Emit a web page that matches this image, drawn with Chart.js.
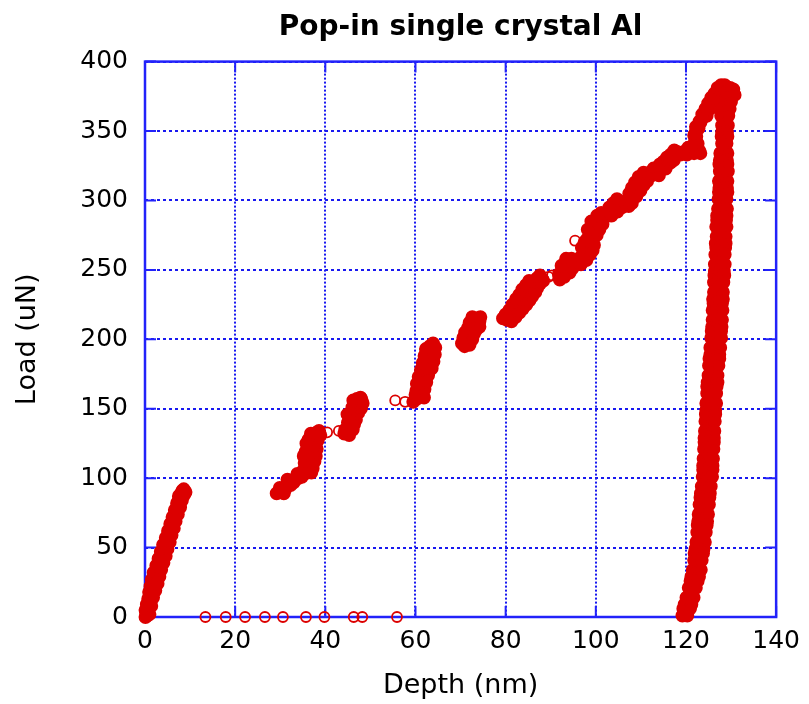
<!DOCTYPE html>
<html>
<head>
<meta charset="utf-8">
<title>Pop-in single crystal Al</title>
<script src="https://cdn.jsdelivr.net/npm/chart.js@4.4.1/dist/chart.umd.min.js"></script>
<style>
  html, body { margin: 0; padding: 0; background: #fff; }
  #wrap { width: 809px; height: 704px; }
</style>
</head>
<body>
<div id="wrap"><canvas id="popinChart" width="809" height="704"></canvas></div>
<script>
/* Pop-in nanoindentation curve, single crystal Al */

// loading branch (depth nm, load uN), in the order recorded
var loadDepth = [
  0.1, 0.5, 0.3, 0.1, 0.6, 0.4, 0.9, 0.7, 1.1, 0.9, 1.4, 1.2, 1.7, 1.5, 2.1, 1.9, 2.6, 2.5, 3.1, 3.0,
  3.7, 3.5, 4.2, 4.0, 4.7, 4.6, 5.2, 5.1, 5.7, 5.6, 6.2, 6.1, 6.7, 6.6, 7.2, 7.1, 7.6, 7.5, 8.0, 8.3, 8.6,
  29.2, 30.0, 30.8, 30.4, 31.3, 31.9, 32.6, 33.3, 34.0, 34.8, 35.4, 35.9, 36.1, 37.2, 36.3, 37.6, 36.2, 37.9,
  36.5, 35.6, 36.7, 38.1, 36.6, 35.8, 37.0, 38.3, 37.2, 37.6, 38.1, 38.6,
  44.2, 44.9, 45.4, 46.4, 45.0, 45.9, 46.3, 45.8, 46.6, 47.2, 46.8, 47.5, 47.0, 47.8,
  59.5, 60.2, 60.9, 61.2, 60.8, 61.6, 61.2, 62.0, 61.8, 63.0, 62.2, 63.4, 62.6, 63.6, 62.9, 63.8, 63.2, 63.9,
  70.9, 71.6, 71.4, 72.1, 71.9, 72.6, 72.4, 73.1, 72.9, 73.6, 74.2, 73.8,
  79.4, 80.3, 81.0, 81.8, 82.5, 83.2, 83.8, 84.4, 85.0, 85.2, 85.9, 86.4, 87.0, 87.6, 88.2,
  91.8, 92.5, 93.2, 93.0, 93.8, 94.3, 94.6,
  96.0, 96.6, 97.3, 97.8, 98.3, 98.0, 98.8, 99.4, 99.2, 99.9, 100.5, 100.3, 101.0,
  102.8, 103.6, 104.3, 105.0, 105.6, 104.8,
  107.3, 107.8, 108.2, 108.6, 109.2, 109.8, 110.4, 111.0, 112.0, 113.7, 115.0, 116.6, 118.0, 119.5,
  121.0, 122.2, 122.9,
  122.6, 122.0, 122.3, 122.2, 122.8, 122.0, 123.2, 123.6, 124.6, 125.3, 126.0, 126.7, 127.4, 128.2,
  129.0, 129.8, 130.5
];
var loadForce = [
  0, 1, 3, 5, 7, 9, 11, 13, 16, 18, 20, 22, 25, 27, 30, 32, 35, 37, 40, 42,
  45, 47, 50, 52, 55, 57, 60, 62, 65, 67, 70, 72, 75, 77, 80, 82, 85, 87, 89, 91, 92,
  89, 90, 89, 92, 94, 96, 98, 99, 100, 101, 103, 105, 108, 107, 111, 112, 114, 116,
  117, 119, 120, 121, 123, 125, 126, 127, 129, 131, 133, 134,
  132, 134, 137, 139, 140, 142, 145, 147, 149, 151, 153, 155, 157, 158,
  155, 157, 159, 162, 165, 167, 170, 172, 175, 177, 180, 182, 185, 187, 190, 192, 195, 197,
  195, 197, 200, 202, 205, 207, 210, 212, 214, 215, 213, 210,
  215, 214, 217, 220, 223, 225, 228, 231, 234, 237, 239, 242, 244, 246, 243,
  247, 249, 251, 254, 256, 253, 258,
  255, 259, 262, 265, 268, 272, 274, 277, 281, 283, 286, 289, 287,
  289, 292, 295, 297, 299, 292,
  296, 300, 304, 307, 310, 313, 316, 318, 320, 322, 328, 333, 335, 335,
  336, 337, 336,
  341, 343, 346, 350, 352, 348, 356, 359, 361, 366, 371, 375, 378, 380,
  381, 381, 380
];

// further loading readings scattered around the same steps
var loadScatterDepth = [
  1.0, 1.4, 1.8, 2.3, 2.8, 3.2, 3.6, 4.1, 4.6, 5.0, 5.5, 5.9, 6.4, 6.8, 7.3, 7.8, 8.2, 8.7, 9.0,
  29.9, 31.1, 32.3, 31.6, 33.0, 33.8, 35.0, 36.9, 37.0, 35.4, 37.3, 35.2, 37.5, 36.0, 37.6, 36.3, 38.4, 36.8, 38.9,
  45.3, 44.4, 46.1, 45.5, 46.8, 44.9, 47.3, 46.0, 47.9, 46.2, 48.3, 48.0,
  60.0, 61.9, 60.2, 62.0, 60.3, 62.4, 60.7, 62.8, 61.2, 63.6, 61.6, 64.0, 62.0, 64.3, 62.3, 64.4,
  70.3, 72.0, 70.6, 72.6, 71.0, 73.0, 71.6, 73.5, 72.0, 74.2, 72.6, 74.4,
  80.0, 80.8, 81.5, 82.3, 83.0, 83.7, 84.5, 85.2,
  81.3, 82.2, 83.0, 83.8, 84.6, 85.3, 85.9, 86.6, 87.0, 87.6, 88.3,
  92.0, 93.0, 94.2, 94.8, 92.4, 95.2, 93.4,
  96.7, 97.9, 98.7, 99.3, 99.6, 96.9, 97.5, 100.2, 98.2, 100.8, 99.0, 101.5, 101.2, 102.0,
  103.0, 103.9, 104.7, 105.8, 106.2, 103.5,
  107.0, 108.0, 107.4, 109.0, 108.0, 109.9, 108.7, 110.6, 109.5, 111.4, 110.6, 112.4, 112.8, 114.0,
  114.2, 115.5, 115.8, 116.5, 117.3, 117.4, 118.8, 120.2, 120.5, 121.8, 123.2, 122.4,
  121.5, 121.8, 122.2, 123.0, 123.6, 124.3, 124.9, 125.6, 126.3, 127.0, 127.8, 128.6, 130.0, 130.8
];
var loadScatterForce = [
  2, 8, 14, 19, 24, 29, 34, 39, 44, 49, 54, 59, 64, 69, 74, 79, 84, 88, 90,
  93, 92, 95, 99, 97, 103, 105, 104, 110, 111, 114, 116, 118, 121, 124, 128, 130, 132, 131,
  131, 135, 135, 144, 142, 146, 147, 151, 150, 156, 154, 157,
  160, 158, 163, 164, 168, 169, 173, 174, 178, 179, 183, 184, 188, 189, 193, 194,
  197, 196, 201, 200, 205, 204, 208, 207, 212, 209, 216, 216,
  218, 221, 225, 229, 232, 236, 239, 242,
  213, 216, 219, 222, 225, 228, 231, 234, 237, 240, 242,
  243, 245, 248, 251, 253, 255, 258,
  254, 257, 261, 264, 268, 266, 270, 275, 279, 279, 285, 283, 291, 289,
  295, 298, 301, 295, 298, 289,
  300, 298, 305, 303, 309, 307, 313, 311, 317, 314, 320, 318, 323, 318,
  326, 323, 331, 327, 329, 336, 333, 333, 338, 334, 334, 338,
  339, 347, 353, 357, 362, 366, 370, 374, 377, 381, 383, 383, 378, 376
];

// isolated readings during the load bursts
var burstDepth = [40.4, 43.0, 55.5, 57.7, 89.5, 90.3, 95.4];
var burstForce = [133, 134, 156, 155, 245, 246, 271];

// stray points recorded at zero load during the pop-in hold
var zeroDepth = [13.4, 17.9, 22.2, 26.6, 30.6, 35.7, 39.8, 46.3, 48.2, 55.9];

// unloading branch: two load lists, three depth tracks across the band
var unloadForce = [
  379, 376, 371, 366, 361, 354, 349, 346, 341, 334, 329, 326, 321, 314, 309, 306, 301, 294, 289, 286,
  281, 274, 269, 266, 261, 254, 249, 246, 241, 234, 229, 226, 221, 214, 209, 206, 201, 194, 189, 186,
  181, 174, 169, 166, 161, 154, 149, 146, 141, 134, 129, 126, 121, 114, 109, 106, 101, 94, 89, 86,
  81, 74, 69, 66, 61, 54, 49, 46, 41, 34, 29, 26, 21, 14, 9, 6, 1
];
var unloadDepthIn = [
  128.0, 127.9, 127.8, 127.6, 127.8, 128.0, 128.0, 127.9, 128.0, 127.6, 127.5, 127.4, 127.5, 127.3, 127.4, 127.3, 127.2, 127.1, 126.9, 126.9,
  126.7, 126.8, 126.6, 126.7, 126.5, 126.4, 126.4, 126.3, 126.2, 126.2, 126.0, 126.1, 125.9, 125.9, 125.8, 125.7, 125.6, 125.4, 125.4, 125.2,
  125.1, 125.0, 124.8, 124.7, 124.7, 124.5, 124.5, 124.4, 124.3, 124.2, 124.1, 124.1, 124.0, 123.9, 123.8, 123.8, 123.7, 123.5, 123.3, 123.2,
  123.0, 122.8, 122.7, 122.6, 122.5, 122.3, 122.1, 121.9, 121.8, 121.5, 121.2, 121.0, 120.6, 120.1, 119.7, 119.4, 119.2
];
var unloadDepthOut = [
  130.3, 130.2, 130.0, 129.7, 129.4, 129.3, 129.1, 129.2, 129.0, 129.2, 129.1, 129.2, 129.3, 129.2, 129.1, 129.2, 129.0, 129.1, 129.0, 128.9,
  129.0, 128.8, 128.8, 128.7, 128.6, 128.6, 128.4, 128.5, 128.3, 128.2, 128.2, 128.0, 128.1, 128.0, 127.9, 127.8, 127.8, 127.6, 127.4, 127.4,
  127.2, 127.0, 127.0, 126.8, 126.7, 126.7, 126.5, 126.5, 126.4, 126.3, 126.2, 126.2, 126.1, 126.0, 125.9, 125.9, 125.8, 125.5, 125.3, 125.2,
  125.1, 124.9, 124.7, 124.6, 124.4, 124.2, 123.9, 123.8, 123.5, 123.3, 122.9, 122.6, 122.2, 121.7, 121.2, 120.9, 120.3
];
var unloadForceMid = [
  378, 373, 368, 363, 357, 352, 347, 343, 337, 331, 327, 323, 317, 311, 307, 303, 297, 291, 287, 283,
  277, 271, 267, 263, 257, 251, 247, 243, 237, 231, 227, 223, 217, 211, 207, 203, 197, 191, 187, 183,
  177, 171, 167, 163, 157, 151, 147, 143, 137, 131, 127, 123, 117, 111, 107, 103, 97, 91, 87, 83,
  77, 71, 67, 63, 57, 51, 47, 43, 37, 31, 27, 23, 17, 11, 7, 3
];
var unloadDepthMid = [
  129.1, 128.9, 128.7, 128.5, 128.4, 128.4, 128.5, 128.4, 128.4, 128.2, 128.1, 128.2, 128.1, 128.2, 128.0, 128.1, 127.9, 128.0, 127.9, 127.8,
  127.9, 127.7, 127.8, 127.6, 127.6, 127.4, 127.5, 127.3, 127.3, 127.1, 127.2, 127.0, 127.1, 126.9, 126.9, 126.7, 126.6, 126.4, 126.4, 126.2,
  126.1, 125.9, 125.9, 125.7, 125.7, 125.5, 125.5, 125.4, 125.3, 125.2, 125.2, 125.0, 125.0, 124.9, 124.9, 124.7, 124.6, 124.4, 124.3, 124.1,
  124.0, 123.8, 123.7, 123.5, 123.4, 123.1, 123.0, 122.8, 122.5, 122.2, 121.9, 121.6, 121.2, 120.7, 120.3, 119.9
];

var xTicks = [0, 20, 40, 60, 80, 100, 120, 140];
var yTicks = [0, 50, 100, 150, 200, 250, 300, 350, 400];

var AXIS_BLUE = 'rgb(34, 34, 250)';
var GRID_BLUE = 'rgb(25, 25, 240)';
var MARK_RED = 'rgb(220, 0, 0)';
var FONT = "'DejaVu Sans', 'Liberation Sans', Arial, sans-serif";

function pairs(xs, ys) {
  var out = [];
  for (var i = 0; i < xs.length; i++) out.push({ x: xs[i], y: ys[i] });
  return out;
}

// dense runs: the overlapping circles merge into solid bands
var densePoints = pairs(loadDepth, loadForce)
  .concat(pairs(loadScatterDepth, loadScatterForce))
  .concat(pairs(unloadDepthIn, unloadForce))
  .concat(pairs(unloadDepthMid, unloadForceMid))
  .concat(pairs(unloadDepthOut, unloadForce));

var openPoints = pairs(burstDepth, burstForce)
  .concat(zeroDepth.map(function (d) { return { x: d, y: 0 }; }));

// solid frame and inward tick marks on all four sides
var frameTicks = {
  id: 'frameTicks',
  beforeDatasetsDraw: function (chart) {
    var ctx = chart.ctx, a = chart.chartArea;
    var xs = chart.scales.x, ys = chart.scales.y;
    var len = 11;
    ctx.save();
    ctx.strokeStyle = AXIS_BLUE;
    ctx.lineWidth = 2;
    ctx.beginPath();
    xs.ticks.forEach(function (t, i) {
      var px = xs.getPixelForTick(i);
      ctx.moveTo(px, a.bottom); ctx.lineTo(px, a.bottom - len);
      ctx.moveTo(px, a.top); ctx.lineTo(px, a.top + len);
    });
    ys.ticks.forEach(function (t, i) {
      var py = ys.getPixelForTick(i);
      ctx.moveTo(a.left, py); ctx.lineTo(a.left + len, py);
      ctx.moveTo(a.right, py); ctx.lineTo(a.right - len, py);
    });
    ctx.stroke();
    ctx.lineWidth = 2.5;
    ctx.strokeRect(a.left, a.top, a.right - a.left, a.bottom - a.top);
    ctx.restore();
  }
};

function markers(label, data, radius, fill) {
  return {
    label: label,
    data: data,
    pointStyle: 'circle',
    pointRadius: radius,
    pointHoverRadius: radius,
    pointBorderWidth: 1.8,
    borderColor: MARK_RED,
    backgroundColor: fill,
    clip: false
  };
}

new Chart(document.getElementById('popinChart').getContext('2d'), {
  type: 'scatter',
  data: {
    datasets: [
      markers('Load', densePoints, 6, MARK_RED),
      markers('Load (isolated)', openPoints, 5, 'rgba(0,0,0,0)')
    ]
  },
  options: {
    responsive: false,
    animation: false,
    events: [],
    layout: { padding: { left: 0, right: 29, top: 0, bottom: 0 } },
    plugins: {
      legend: { display: false },
      tooltip: { enabled: false },
      title: {
        display: true,
        text: 'Pop-in single crystal Al',
        color: '#000',
        fullSize: false,
        font: { family: FONT, size: 28, weight: 'bold' },
        padding: { top: 11, bottom: 17 }
      }
    },
    scales: {
      x: {
        type: 'linear',
        min: 0,
        max: 140,
        afterBuildTicks: function (s) { s.ticks = xTicks.map(function (v) { return { value: v }; }); },
        afterFit: function (s) { s.height = 87; },
        grid: { color: GRID_BLUE, lineWidth: 2, drawTicks: false },
        border: { display: false, dash: [2, 2] },
        ticks: {
          color: '#000',
          padding: 9,
          maxRotation: 0,
          font: { family: FONT, size: 25 }
        },
        title: {
          display: true,
          text: 'Depth (nm)',
          color: '#000',
          font: { family: FONT, size: 27 },
          padding: { top: 0, bottom: 2 }
        }
      },
      y: {
        type: 'linear',
        min: 0,
        max: 400,
        afterBuildTicks: function (s) { s.ticks = yTicks.map(function (v) { return { value: v }; }); },
        afterFit: function (s) { s.width = 145; },
        grid: { color: GRID_BLUE, lineWidth: 2, drawTicks: false },
        border: { display: false, dash: [3, 3] },
        ticks: {
          color: '#000',
          padding: 17,
          font: { family: FONT, size: 25 }
        },
        title: {
          display: true,
          text: 'Load (uN)',
          color: '#000',
          font: { family: FONT, size: 27 },
          padding: { top: 12, bottom: 0 }
        }
      }
    }
  },
  plugins: [frameTicks]
});
</script>
</body>
</html>
